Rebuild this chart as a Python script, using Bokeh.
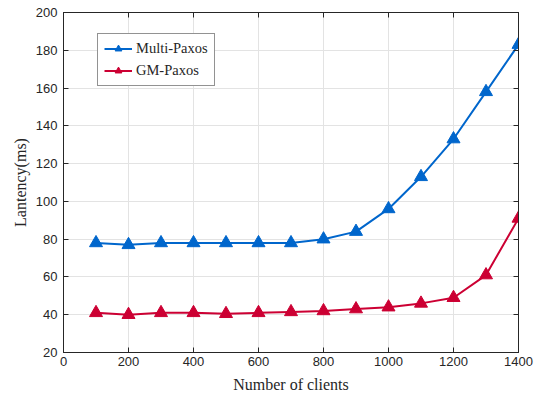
from bokeh.plotting import figure
from bokeh.models import LinearAxis, Range1d, FixedTicker, Legend, LegendItem
from bokeh.embed import file_html
from bokeh.resources import INLINE

clients = [100, 200, 300, 400, 500, 600, 700, 800, 900, 1000, 1100, 1200, 1300, 1400]
multi_paxos = [78, 77, 78, 78, 78, 78, 78, 80, 84, 96, 113, 133, 158, 183]
gm_paxos = [41, 40, 41, 41, 40.5, 41, 41.5, 42, 43, 44, 46, 49, 61, 91]
x_ticks = [0, 200, 400, 600, 800, 1000, 1200, 1400]
y_ticks = [20, 40, 60, 80, 100, 120, 140, 160, 180, 200]

BLUE = "#0066cc"
RED = "#cc0033"
INK = "#262626"

p = figure(width=543, height=397, output_backend="svg", toolbar_location=None,
           x_range=Range1d(0, 1400), y_range=Range1d(20, 200),
           min_border_left=63, min_border_right=25, min_border_top=12, min_border_bottom=45,
           x_axis_label="Number of clients", y_axis_label="Lantency(ms)")
p.outline_line_color = INK
p.outline_line_width = 1
p.background_fill_color = "white"
p.border_fill_color = "white"

for ax in [p.xaxis[0], p.yaxis[0]]:
    ax.major_tick_in = 5
    ax.major_tick_out = 0
    ax.minor_tick_in = 0
    ax.minor_tick_out = 0
    ax.axis_line_color = INK
    ax.major_tick_line_color = INK
    ax.major_label_text_font = "Liberation Sans"
    ax.major_label_text_font_size = "13px"
    ax.major_label_text_color = INK
    ax.axis_label_text_font = "Liberation Serif"
    ax.axis_label_text_font_size = "16px"
    ax.axis_label_text_font_style = "normal"
    ax.axis_label_text_color = INK
p.xaxis[0].ticker = FixedTicker(ticks=x_ticks)
p.yaxis[0].ticker = FixedTicker(ticks=y_ticks)
p.xaxis[0].axis_label_standoff = 7
p.yaxis[0].axis_label_standoff = 4
p.xaxis[0].major_label_standoff = 4
p.yaxis[0].major_label_standoff = 6

for loc, ticks in [("right", y_ticks), ("above", x_ticks)]:
    ax = LinearAxis(ticker=FixedTicker(ticks=ticks),
                    major_label_overrides={t: "" for t in ticks},
                    major_tick_in=5, major_tick_out=0, minor_tick_in=0, minor_tick_out=0,
                    axis_line_color=INK, major_tick_line_color=INK,
                    major_label_standoff=0)
    p.add_layout(ax, loc)

p.xgrid.ticker = FixedTicker(ticks=x_ticks)
p.ygrid.ticker = FixedTicker(ticks=y_ticks)
p.xgrid.grid_line_color = "#e3e3e3"
p.ygrid.grid_line_color = "#e3e3e3"

l1 = p.line(clients, multi_paxos, line_color=BLUE, line_width=2)
s1 = p.scatter(clients, multi_paxos, marker="triangle", size=13, fill_color=BLUE, line_color=BLUE)
l2 = p.line(clients, gm_paxos, line_color=RED, line_width=2)
s2 = p.scatter(clients, gm_paxos, marker="triangle", size=13, fill_color=RED, line_color=RED)

legend = Legend(items=[LegendItem(label="Multi-Paxos", renderers=[l1, s1]),
                       LegendItem(label="GM-Paxos", renderers=[l2, s2])],
                location=(34, 266))
legend.label_text_font = "Liberation Serif"
legend.label_text_font_size = "14.5px"
legend.label_text_color = INK
legend.border_line_color = INK
legend.border_line_width = 1
legend.background_fill_alpha = 1
legend.glyph_width = 28
legend.glyph_height = 17
legend.label_height = 17
legend.label_standoff = 4
legend.spacing = 5
legend.padding = 6
legend.margin = 0
p.add_layout(legend, "center")

open("out.html", "w").write(file_html(p, INLINE))
